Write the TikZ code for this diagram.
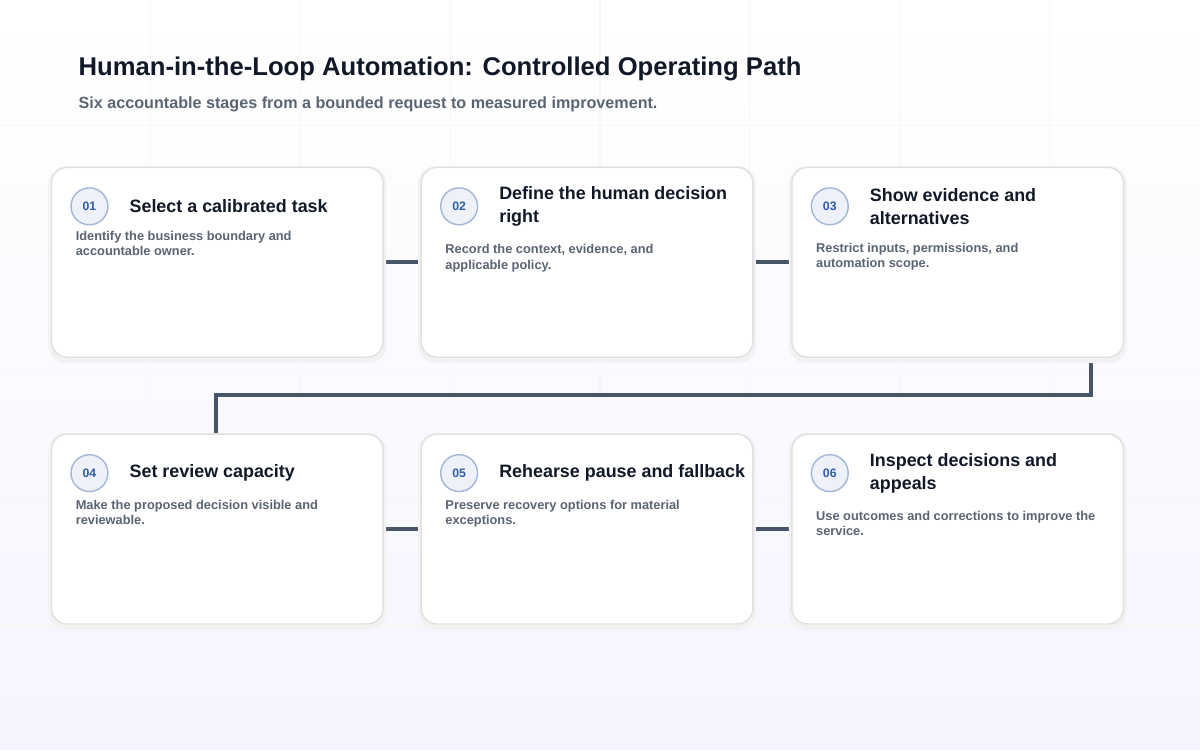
\documentclass[tikz,border=0pt]{standalone}
\usepackage{fontspec}
\setmainfont{Liberation Sans}
\usepackage{tikz}
\usetikzlibrary{positioning}
\usetikzlibrary{calc}
\definecolor{ink}{HTML}{111827}
\definecolor{slate}{HTML}{475569}
\definecolor{muted}{HTML}{5B6472}
\definecolor{badgeblue}{HTML}{2F5DAA}
\tikzset{card/.style={draw=black!12,line width=0.8pt,fill=white,rounded corners=9pt}}
\tikzset{cardshadow/.style={fill=black!5,rounded corners=10pt}}
\tikzset{badge/.style={draw=badgeblue!45,line width=0.8pt,fill=badgeblue!8,circle,minimum size=21pt,inner sep=0pt,
                       text=badgeblue,font=\fontsize{7}{8}\selectfont\bfseries}}
\tikzset{cardtitle/.style={anchor=west,align=left,text=ink,font=\fontsize{10.2}{13}\selectfont\bfseries}}
\tikzset{carddesc/.style={anchor=north west,align=left,text=muted,font=\fontsize{7.3}{8.6}\selectfont\bfseries,inner sep=0pt}}
\tikzset{link/.style={draw=slate,line width=2.3pt}}
\newcommand{\stagecard}[5]{%
  \path[cardshadow] (#2-3,#3-1) rectangle (#2+335,#3+196);
  \path[card] (#2,#3) rectangle (#2+332,#3+190);
  \node[badge] (B#1) at (#2+38,#3+39) {#1};
  \node[cardtitle] (T#1) at (#2+72,#3+39) {#4};
  \node[carddesc] (D#1) at ($(T#1.south west)+(-48,12)$) {#5};
}
\begin{document}
\begin{tikzpicture}[x=0.02cm,y=-0.02cm]
      % background
      \fill[top color=white,bottom color=blue!4!white] (0,0) rectangle (1200,750);
      \draw[black!3,line width=0.6pt] (0,125) -- (1200,125) (0,250) -- (1200,250) (0,375) -- (1200,375)
        (0,500) -- (1200,500) (0,625) -- (1200,625);
      \draw[black!3,line width=0.6pt] (150,0) -- (150,750) (300,0) -- (300,750) (450,0) -- (450,750)
        (600,0) -- (600,750) (750,0) -- (750,750) (900,0) -- (900,750) (1050,0) -- (1050,750);
      \useasboundingbox (0,0) rectangle (1200,750);

      % heading
      \node[anchor=west,text=ink,font=\fontsize{14.6}{17}\selectfont\bfseries] (title) at (72,68)
      {Human-in-the-Loop Automation: Controlled Operating Path};
      \node[anchor=west,text=muted,font=\fontsize{9.2}{11}\selectfont\bfseries] (subtitle) at (72,104)
      {Six accountable stages from a bounded request to measured improvement.};

      % connectors
      \coordinate (R1a) at (383,262); \coordinate (R1b) at (421,262);
      \coordinate (R2a) at (753,262); \coordinate (R2b) at (792,262);
      \coordinate (R4a) at (383,529); \coordinate (R4b) at (421,529);
      \coordinate (R5a) at (753,529); \coordinate (R5b) at (792,529);
      \coordinate (D3) at (1091,357); \coordinate (U4) at (216,434);
      \path[link] (R1a) -- (R1b);
      \path[link] (R2a) -- (R2b);
      \path[link] (R4a) -- (R4b);
      \path[link] (R5a) -- (R5b);
      \path[link] (D3) -- ++(0,38) -| (U4);

      % cards
      \stagecard{01}{51}{167}{Select a calibrated task}{Identify the business boundary and\\accountable owner.}
      \stagecard{02}{421}{167}{Define the human decision\\right}{Record the context, evidence, and\\applicable policy.}
      \stagecard{03}{792}{167}{Show evidence and\\alternatives}{Restrict inputs, permissions, and\\automation scope.}
      \stagecard{04}{51}{434}{Set review capacity}{Make the proposed decision visible and\\reviewable.}
      \stagecard{05}{421}{434}{Rehearse pause and fallback}{Preserve recovery options for material\\exceptions.}
      \stagecard{06}{792}{434}{Inspect decisions and\\appeals}{Use outcomes and corrections to improve the\\service.}
\end{tikzpicture}
\end{document}
